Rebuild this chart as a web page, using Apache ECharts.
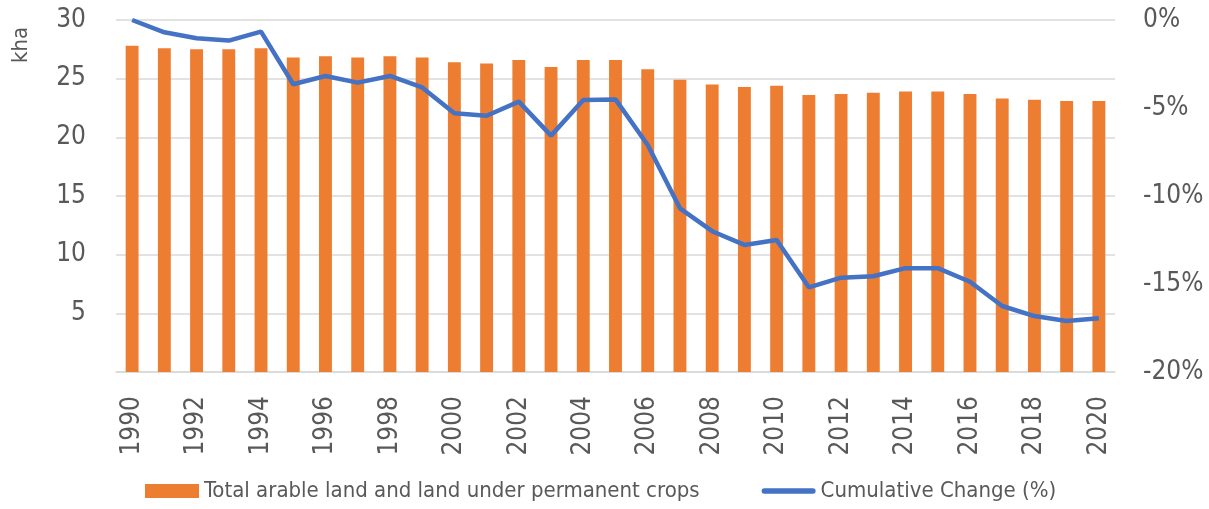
<!DOCTYPE html>
<html>
<head>
<meta charset="utf-8">
<script src="https://cdn.jsdelivr.net/npm/echarts@6/dist/echarts.min.js"></script>
<style>
  html, body { margin: 0; padding: 0; background: #fff; }
  #chart { width: 1209px; height: 509px; }
</style>
</head>
<body>
<div id="chart"></div>
<script>
var years = ['1990', '1991', '1992', '1993', '1994', '1995', '1996', '1997', '1998', '1999',
    '2000', '2001', '2002', '2003', '2004', '2005', '2006', '2007', '2008', '2009',
    '2010', '2011', '2012', '2013', '2014', '2015', '2016', '2017', '2018', '2019', '2020'];

// kha
var arableLand = [27.8, 27.6, 27.5, 27.5, 27.6, 26.8, 26.9, 26.8, 26.9, 26.8,
    26.4, 26.3, 26.6, 26.0, 26.6, 26.6, 25.8, 24.9, 24.5, 24.3,
    24.4, 23.6, 23.7, 23.8, 23.9, 23.9, 23.7, 23.3, 23.2, 23.1, 23.1];

// %
var cumulativeChange = [0, -0.70, -1.04, -1.17, -0.66, -3.65, -3.18, -3.56, -3.18, -3.83,
    -5.30, -5.44, -4.64, -6.57, -4.55, -4.51, -7.1, -10.7, -12.0, -12.78,
    -12.5, -15.19, -14.64, -14.56, -14.1, -14.1, -14.87, -16.25, -16.82, -17.1, -16.95];

var barName = 'Total arable land and land under permanent crops';
var lineName = 'Cumulative Change (%)';

var font = '"DejaVu Sans", sans-serif';
var stretch = 'condensed';   // goes into the canvas font string
var textColor = '#595959';

var chart = echarts.init(document.getElementById('chart'));

var option = {
    animation: false,
    textStyle: { fontFamily: font, fontWeight: stretch },
    grid: {
        left: 116,
        right: 94,
        top: 20,
        bottom: 137,
        outerBoundsMode: 'none'
    },
    graphic: [{
        type: 'text',
        x: 21,
        y: 45,
        rotation: Math.PI / 2,
        style: {
            text: 'kha',
            fill: textColor,
            font: stretch + ' 22px ' + font,
            align: 'center',
            verticalAlign: 'middle'
        }
    }],
    legend: {
        bottom: 2,
        left: 140,
        itemGap: 62,
        itemWidth: 54,
        itemHeight: 14,
        itemTextGap: 5,
        textStyle: { color: textColor, fontSize: 22, fontFamily: font, fontWeight: stretch },
        data: [
            { name: barName, icon: 'rect' },
            { name: lineName, icon: 'path://M2,0 L48,0 A2.5,2.5 0 0 1 48,5 L2,5 A2.5,2.5 0 0 1 2,0 Z' }
        ]
    },
    xAxis: {
        type: 'category',
        data: years,
        axisTick: { show: false },
        axisLine: { lineStyle: { color: '#d9d9d9', width: 1.5 } },
        axisLabel: {
            rotate: 90,
            interval: 1,
            color: textColor,
            fontSize: 26,
            fontWeight: stretch,
            margin: 24
        }
    },
    yAxis: [
        {
            type: 'value',
            min: 0,
            max: 30,
            interval: 5,
            axisLine: { show: false },
            axisTick: { show: false },
            splitLine: { lineStyle: { color: '#d9d9d9', width: 1.5 } },
            axisLabel: {
                color: textColor,
                fontSize: 26,
                fontWeight: stretch,
                margin: 30,
                formatter: function(v) { return v === 0 ? '' : v; }
            }
        },
        {
            type: 'value',
            min: -20,
            max: 0,
            interval: 5,
            axisLine: { show: false },
            axisTick: { show: false },
            splitLine: { show: false },
            axisLabel: {
                color: textColor,
                fontSize: 26,
                fontWeight: stretch,
                margin: 28,
                formatter: '{value}%'
            }
        }
    ],
    series: [
        {
            name: barName,
            type: 'bar',
            data: arableLand,
            barWidth: '40%',
            itemStyle: { color: '#ED7D31' }
        },
        {
            name: lineName,
            type: 'line',
            yAxisIndex: 1,
            data: cumulativeChange,
            symbol: 'none',
            lineStyle: { color: '#4472C4', width: 4.5 },
            itemStyle: { color: '#4472C4' }
        }
    ]
};

chart.setOption(option);
</script>
</body>
</html>
